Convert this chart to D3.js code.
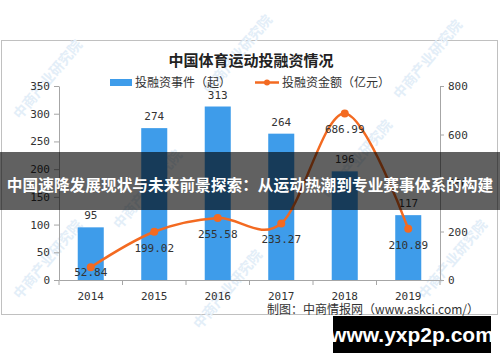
<!DOCTYPE html>
<head>
  <meta charset="utf-8">
  <style>
    body { margin: 0; background: #fff; }
    svg { display: block; font-family: "Noto Sans CJK SC", sans-serif; }
    .num { font-family: "DejaVu Sans Mono", "Liberation Mono", monospace; font-size: 11px; fill: #333; }
    .axis text { font-family: "DejaVu Sans Mono", "Liberation Mono", monospace; font-size: 11px; fill: #333; }
    .axis path, .axis line { stroke: #a6a6a6; }
  </style>
</head>
<svg width="500" height="362"></svg>
<script src="https://d3js.org/d3.v7.min.js"></script>
<script>
  const years = ["2014", "2015", "2016", "2017", "2018", "2019"];
  const events = [95, 274, 313, 264, 196, 117];
  const amounts = [52.84, 199.02, 255.58, 233.27, 686.99, 210.89];
  const leftTicks = [0, 50, 100, 150, 200, 250, 300, 350];
  const rightTicks = [0, 200, 400, 600, 800];

  const blue = "#3e9cea", orange = "#f36a21";
  const plot = { left: 59, right: 440, top: 86, bottom: 280 };

  var svg = d3.select("svg");

  svg.append("rect")
    .attr("x", 1.5).attr("y", 40.5)
    .attr("width", 496).attr("height", 274)
    .attr("fill", "#fff").attr("stroke", "#c0c0c0");

  // watermarks
  var wm = svg.append("g").attr("fill", "#e3eef8").style("font-size", "14px").style("font-weight", "bold");
  [[20, 120], [210, 95], [400, 100], [120, 230], [330, 200], [425, 300], [200, 330], [20, 300]].forEach(function(p) {
    wm.append("text")
      .attr("transform", "translate(" + p[0] + "," + p[1] + ") rotate(-50)")
      .text("中商产业研究院");
  });

  var x = d3.scaleBand().domain(years).range([plot.left, plot.right]);
  var yL = d3.scaleLinear().domain([0, 350]).range([plot.bottom, plot.top]);
  var yR = d3.scaleLinear().domain([0, 800]).range([plot.bottom, plot.top]);

  svg.append("text")
    .attr("x", 251).attr("y", 66)
    .attr("text-anchor", "middle")
    .style("font-size", "15px").style("font-weight", "bold").style("fill", "#222")
    .text("中国体育运动投融资情况");

  // legend
  svg.append("rect").attr("x", 110).attr("y", 79).attr("width", 22).attr("height", 7).attr("fill", blue);
  svg.append("text").attr("x", 135).attr("y", 87).style("font-size", "12px").style("fill", "#333")
    .text("投融资事件（起）");
  svg.append("line").attr("x1", 255).attr("x2", 279).attr("y1", 82.5).attr("y2", 82.5)
    .attr("stroke", orange).attr("stroke-width", 2.5);
  svg.append("circle").attr("cx", 267).attr("cy", 82.5).attr("r", 3).attr("fill", orange);
  svg.append("text").attr("x", 282).attr("y", 87).style("font-size", "12px").style("fill", "#333")
    .text("投融资金额（亿元）");

  // axes
  svg.append("g").attr("class", "axis")
    .attr("transform", "translate(" + plot.left + ",0)")
    .call(d3.axisLeft(yL).tickValues(leftTicks).tickSize(5).tickSizeOuter(0).tickPadding(4));

  svg.append("g").attr("class", "axis")
    .attr("transform", "translate(" + plot.right + ",0)")
    .call(d3.axisRight(yR).tickValues(rightTicks).tickSize(4).tickSizeOuter(0).tickPadding(4));

  var xg = svg.append("g").attr("class", "axis")
    .attr("transform", "translate(0," + plot.bottom + ")")
    .call(d3.axisBottom(x).tickSize(0).tickSizeOuter(0).tickPadding(12));
  xg.selectAll(".bound")
    .data(years.map(d => x(d)).concat([x(years[years.length - 1]) + x.bandwidth()]))
    .enter().append("line")
    .attr("x1", d => d).attr("x2", d => d)
    .attr("y1", 0).attr("y2", 5);

  // bars
  var bw = x.bandwidth() * 0.41;
  svg.append("g").selectAll("rect")
    .data(events)
    .enter().append("rect")
    .attr("x", (d, i) => x(years[i]) + (x.bandwidth() - bw) / 2)
    .attr("y", d => yL(d))
    .attr("width", bw)
    .attr("height", d => yL(0) - yL(d))
    .attr("fill", blue);

  svg.append("g").selectAll("text")
    .data(events)
    .enter().append("text")
    .attr("class", "num")
    .attr("text-anchor", "middle")
    .attr("x", (d, i) => x(years[i]) + x.bandwidth() / 2)
    .attr("y", d => yL(d) - 8)
    .text(d => d);

  // line
  var line = d3.line()
    .x((d, i) => x(years[i]) + x.bandwidth() / 2)
    .y(d => yR(d))
    .curve(d3.curveCardinal.tension(0));

  svg.append("path")
    .datum(amounts)
    .attr("d", line)
    .attr("fill", "none")
    .attr("stroke", orange)
    .attr("stroke-width", 2.5);

  svg.append("g").selectAll("circle")
    .data(amounts)
    .enter().append("circle")
    .attr("cx", (d, i) => x(years[i]) + x.bandwidth() / 2)
    .attr("cy", d => yR(d))
    .attr("r", 4)
    .attr("fill", orange);

  svg.append("g").selectAll("text")
    .data(amounts)
    .enter().append("text")
    .attr("class", "num")
    .attr("text-anchor", "middle")
    .attr("x", (d, i) => x(years[i]) + x.bandwidth() / 2)
    .attr("y", d => Math.min(yR(d) + 20, 276))
    .text(d => d.toFixed(2));

  svg.append("text")
    .attr("x", 479).attr("y", 314)
    .attr("text-anchor", "end")
    .style("font-size", "12px").style("fill", "#333")
    .text("制图：中商情报网（www.askci.com/）");

  // overlay banner
  svg.append("rect")
    .attr("x", 0).attr("y", 152).attr("width", 500).attr("height", 58)
    .attr("fill", "rgba(0,0,0,0.62)");
  svg.append("text")
    .attr("x", 250).attr("y", 191)
    .attr("text-anchor", "middle")
    .style("font-size", "15.7px").style("font-weight", "bold").style("fill", "#fff")
    .text("中国速降发展现状与未来前景探索：从运动热潮到专业赛事体系的构建");

  svg.append("rect")
    .attr("x", 333).attr("y", 316).attr("width", 158).attr("height", 37)
    .attr("fill", "#000");
  svg.append("text")
    .attr("x", 412).attr("y", 342)
    .attr("text-anchor", "middle")
    .style("font-family", "Arial, 'Liberation Sans', sans-serif")
    .style("font-size", "21px").style("font-weight", "bold").style("fill", "#fff")
    .text("www.yxp2p.com");
</script>
